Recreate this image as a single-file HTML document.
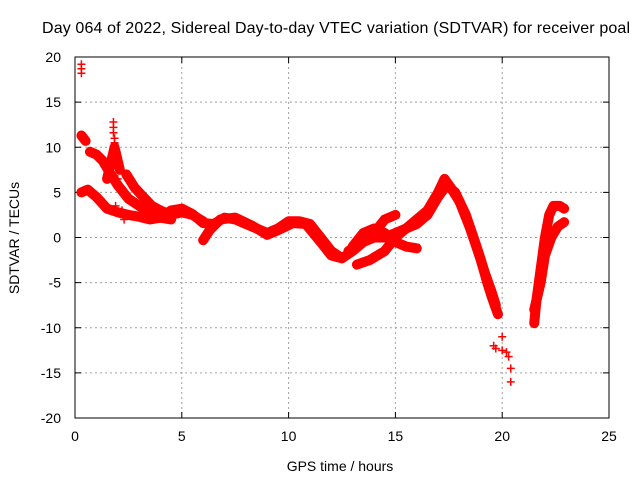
<!DOCTYPE html>
<html><head><meta charset="utf-8"><style>
body{margin:0;background:#fff}
svg{display:block;font-family:"Liberation Sans",sans-serif}
</style></head><body>
<svg id="chart" width="640" height="480">
<text x="336" y="33" font-size="16" text-anchor="middle" textLength="588">Day 064 of 2022, Sidereal Day-to-day VTEC variation (SDTVAR) for receiver poal</text>
<text x="340" y="471" font-size="14" text-anchor="middle">GPS time / hours</text>
<text x="19" y="238" font-size="14" text-anchor="middle" transform="rotate(-90 19 238)">SDTVAR / TECUs</text>
<g id="grid"></g><g id="ticks"></g><g id="marks"></g>
<rect x="75" y="57" width="534" height="361" fill="none" stroke="#000" stroke-width="1"/>
</svg>
<script>
const xTicks=[0,5,10,15,20,25];
const yTicks=[20,15,10,5,0,-5,-10,-15,-20];
const trackA=[[0.3,5],[0.6,5.3],[1,4.5],[1.5,3.2],[2,2.8],[2.5,2.5],[3,2.3],[3.5,2],[4,2.2],[4.5,3],[5,3.2],[5.5,2.6],[6,1.6],[6.5,1.5],[7,2.2],[7.5,2],[8,1.5],[8.5,1],[9,0.5],[9.5,1],[10,1.8],[10.5,1.8],[11,1.5],[11.5,0],[12,-1.5],[12.5,-2.3],[13,-1.5],[13.5,-0.5],[14,0],[14.5,0],[15,0.5],[15.5,1],[16,2],[16.5,3],[17,5],[17.3,6.5],[17.6,5.5],[18,4],[18.5,1],[19,-2.5],[19.3,-5],[19.5,-6.5],[19.8,-8.5]];
const trackB=[[0.7,9.5],[1,9.2],[1.3,8.5],[1.6,7.3],[2,5.8],[2.5,4.3],[3,3.5],[3.5,2.8],[4,2.2],[4.5,2]];
const trackC=[[1.5,6.5],[1.7,8.5],[1.85,10],[1.95,9],[2.1,7.5]];
const trackD=[[2.4,7],[2.8,5.5],[3.2,4.5],[3.6,3.5],[4,3],[4.5,2.5],[5,2.8],[5.5,2.5],[6,1.8]];
const trackE=[[6,-0.3],[6.3,0.8],[6.8,2],[7.5,2.2],[8.3,1.3],[9,0.3],[9.5,0.8],[10.2,1.6],[10.8,1.5],[11.5,-0.5],[12,-2],[12.5,-2.3]];
const trackF=[[13,-1],[13.5,0.5],[14,1],[14.5,0.5],[15,-0.5],[15.5,-1],[16,-1.2]];
const trackG=[[13.2,-3],[13.8,-2.5],[14.5,-1.5],[15,0],[15.5,1],[16,1.5],[16.5,2.5],[17,4.5],[17.4,5.8],[17.8,5],[18.3,2.5],[18.8,-1],[19.2,-4],[19.5,-6],[19.7,-7.5]];
const trackH=[[12.8,-1.5],[13.5,-0.5],[14,0.5],[14.5,2],[15,2.5]];
const trackI=[[0.3,11.3],[0.4,11],[0.5,10.7]];
const trackJ=[[21.5,-9.5],[21.6,-7],[21.8,-3.5],[22,0],[22.2,2.5],[22.4,3.5],[22.7,3.5],[22.9,3.2]];
const trackK=[[21.5,-8],[21.8,-5],[22,-2],[22.3,0],[22.6,1.2],[22.9,1.7]];
const isolated=[[0.3,19.2],[0.3,18.7],[0.3,18.2],[1.8,12.8],[1.8,12.2],[1.8,11.6],[1.85,11],[1.85,10.5],[2,6.5],[2.1,5.5],[2.2,3],[1.9,3.5],[2.3,2],[3.5,2],[19.6,-12],[19.7,-12.3],[20,-11],[20,-12.5],[20.2,-12.7],[20.3,-13.2],[20.4,-14.5],[20.4,-16]];
const tracks=[trackA,trackB,trackC,trackD,trackE,trackF,trackG,trackH,trackI,trackJ,trackK];
const NS='http://www.w3.org/2000/svg';
const X=h=>75+h*534/25, Y=v=>237.5-v*361/40;
const grid=document.getElementById('grid'),ticks=document.getElementById('ticks'),marks=document.getElementById('marks');
function mk(t,a,p){const e=document.createElementNS(NS,t);for(const k in a)e.setAttribute(k,a[k]);p.appendChild(e);return e;}
xTicks.forEach(t=>{const x=X(t);
 if(t>0&&t<25){const g=mk('line',{x1:x,y1:57,x2:x,y2:418,stroke:'#a0a0a0','stroke-dasharray':'2,3'},grid);
 
 }
 mk('line',{x1:x,y1:418,x2:x,y2:412,stroke:'#000'},ticks);mk('line',{x1:x,y1:57,x2:x,y2:63,stroke:'#000'},ticks);
 const l=mk('text',{x:x,y:441,'font-size':14,'text-anchor':'middle'},ticks);l.textContent=t;
 
 });
yTicks.forEach(t=>{const y=Y(t);
 if(t>-20&&t<20){const g=mk('line',{x1:75,y1:y,x2:609,y2:y,stroke:'#a0a0a0','stroke-dasharray':'2,3'},grid);
 
 }
 mk('line',{x1:75,y1:y,x2:81,y2:y,stroke:'#000'},ticks);mk('line',{x1:609,y1:y,x2:603,y2:y,stroke:'#000'},ticks);
 const l=mk('text',{x:61,y:y+5,'font-size':14,'text-anchor':'end'},ticks);l.textContent=t;
 
 });
function plus(h,v){const x=X(h),y=Y(v);
 const p=mk('path',{d:`M${x-4},${y}h8M${x},${y-4}v8`,stroke:'#f00','stroke-width':1.5},marks);
 
 }
tracks.forEach(tr=>{
 const p=mk('path',{d:tr.map((q,i)=>(i?'L':'M')+X(q[0])+','+Y(q[1])).join(''),fill:'none',stroke:'#f00','stroke-width':10,'stroke-linejoin':'round','stroke-linecap':'round'},marks);
 
 
 tr.forEach(q=>plus(q[0],q[1]));});
isolated.forEach(q=>plus(q[0],q[1]));
</script>
</body></html>
